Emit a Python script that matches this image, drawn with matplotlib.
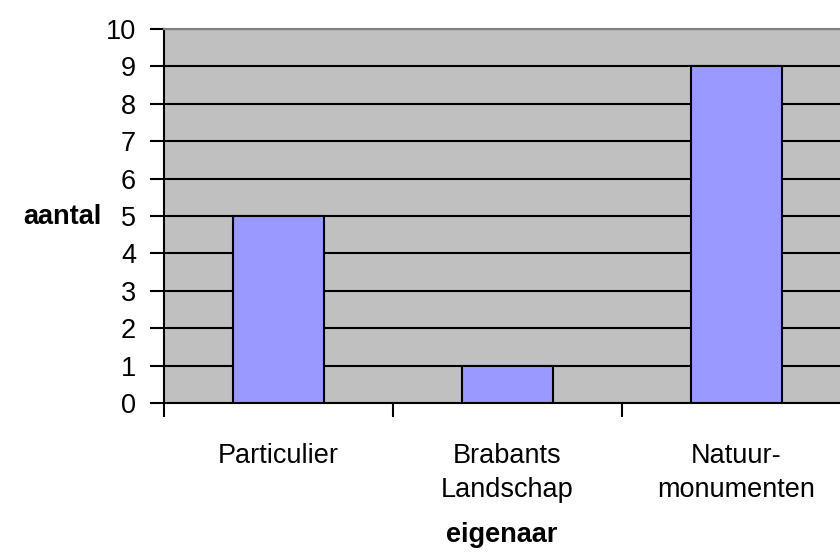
import matplotlib.pyplot as plt
from matplotlib.transforms import blended_transform_factory

plt.rcParams['font.family'] = ['Liberation Sans', 'DejaVu Sans']

categories = ['Particulier', 'Brabants\nLandschap', 'Natuur-\nmonumenten']
values = [5, 1, 9]
y_ticks = list(range(0, 11))


def main():
    fig = plt.figure(figsize=(8.4, 5.56), dpi=100)
    # plot area runs past the right edge, as in the original
    ax = fig.add_axes([164 / 840, (556 - 403) / 556, 687 / 840, 374 / 556])
    ax.set_facecolor('#c0c0c0')

    x = list(range(len(categories)))
    ax.bar(x, values, width=0.4, color='#9999ff', edgecolor='black',
           linewidth=1.5, zorder=3)

    ax.set_xlim(-0.5, len(categories) - 0.5)
    ax.set_ylim(0, 10)
    ax.set_yticks(y_ticks)
    ax.yaxis.grid(True, color='black', linewidth=1.5, zorder=1)
    ax.set_axisbelow(True)

    ax.set_xticks([i - 0.5 for i in range(len(categories) + 1)])
    ax.set_xticklabels([])
    ax.tick_params(axis='x', direction='out', length=10, width=1.5)
    ax.tick_params(axis='y', direction='out', length=10, width=1.5,
                   labelsize=19.5, pad=10)

    trans = blended_transform_factory(ax.transData, fig.transFigure)
    for i, lab in enumerate(categories):
        ax.text(i, 1 - 443 / 556, lab, transform=trans, ha='center', va='top',
                fontsize=19.5, linespacing=1.42)

    ax.spines['top'].set_color('#808080')
    ax.spines['top'].set_linewidth(1.5)
    ax.spines['right'].set_visible(False)
    ax.spines['left'].set_linewidth(1.5)
    ax.spines['bottom'].set_linewidth(1.5)

    fig.text(62 / 840, 1 - 217 / 556, 'aantal', ha='center', va='center',
             fontsize=19.5, fontweight='bold')
    fig.text(502 / 840, 1 - 535 / 556, 'eigenaar', ha='center', va='center',
             fontsize=19.5, fontweight='bold')

    fig.savefig('out.png', dpi=100)


if __name__ == '__main__':
    main()
